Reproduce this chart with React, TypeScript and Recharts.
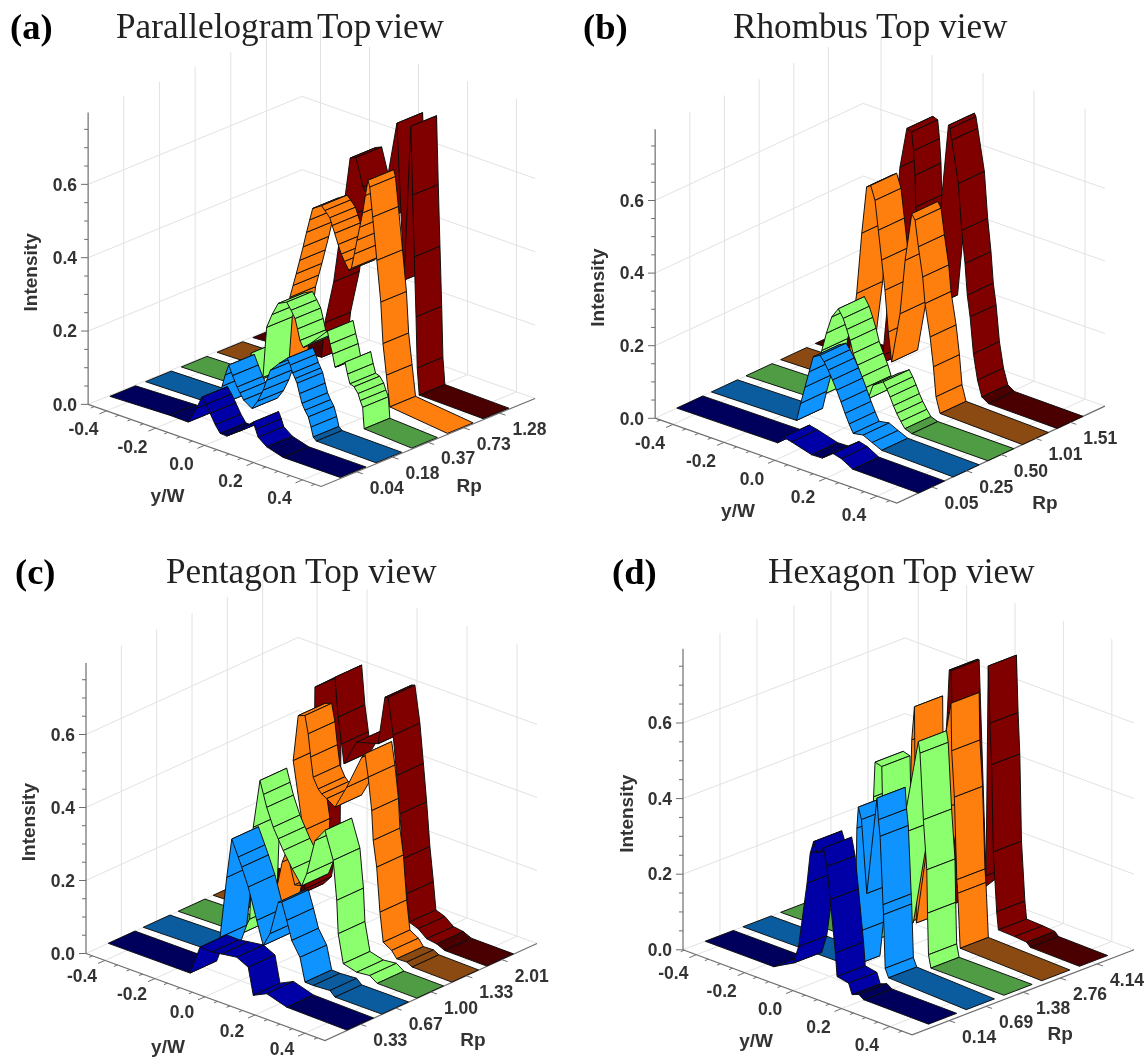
// App.tsx
// Four waterfall panels: each ribbon is projected by hand onto a Recharts scatter plane

import { Scatter, ScatterChart, XAxis, YAxis } from "recharts";

type Pt = [number, number]; // [y/W, intensity]

const YW_TICKS = [-0.4, -0.2, 0, 0.2, 0.4];
const WALL_LEVELS = [0.2, 0.4, 0.6];
const INTENSITY_TICKS = [0, 0.2, 0.4, 0.6];
const INTENSITY_MINOR = [0.05, 0.1, 0.15, 0.25, 0.3, 0.35, 0.45, 0.5, 0.55, 0.65, 0.7, 0.75];
const YW_MINOR = [-0.45, -0.35, -0.3, -0.25, -0.15, -0.1, -0.05, 0.05, 0.1, 0.15, 0.25, 0.3, 0.35, 0.45];

const rpA = ["0.04", "0.18", "0.37", "0.73", "1.28"];
const rpB = ["0.05", "0.25", "0.50", "1.01", "1.51"];
const rpC = ["0.33", "0.67", "1.00", "1.33", "2.01"];
const rpD = ["0.14", "0.69", "1.38", "2.76", "4.14"];

// (a) Parallelogram
const aNavy: Pt[] = [[-0.47, 0], [-0.224, 0.006], [-0.151, 0.005], [-0.116, 0.051], [-0.095, 0.086], [-0.078, 0.07], [-0.061, 0.05], [-0.04, 0.024], [-0.02, 0.005], [0.007, 0.004], [0.06, 0.03], [0.09, 0.052], [0.114, 0.067], [0.125, 0.05], [0.135, 0.031], [0.17, 0.013], [0.237, 0], [0.47, 0]];
const aBlue: Pt[] = [[-0.47, 0], [-0.175, 0.004], [-0.158, 0.061], [-0.145, 0.095], [-0.131, 0.125], [-0.115, 0.1], [-0.097, 0.073], [-0.085, 0.06], [-0.07, 0.044], [-0.036, 0.029], [-0.012, 0.055], [0.01, 0.09], [0.024, 0.12], [0.039, 0.151], [0.075, 0.178], [0.108, 0.2], [0.12, 0.184], [0.13, 0.165], [0.14, 0.152], [0.148, 0.141], [0.158, 0.115], [0.168, 0.091], [0.18, 0.075], [0.194, 0.06], [0.205, 0.035], [0.214, 0.01], [0.227, 0.002], [0.47, 0]];
const aGreen: Pt[] = [[-0.47, 0], [-0.22, 0.004], [-0.185, 0.105], [-0.137, 0.05], [-0.122, 0.19], [-0.1, 0.23], [-0.075, 0.266], [-0.04, 0.278], [-0.022, 0.26], [-0.006, 0.241], [0.004, 0.215], [0.014, 0.186], [0.027, 0.17], [0.06, 0.19], [0.126, 0.238], [0.137, 0.205], [0.147, 0.18], [0.157, 0.147], [0.165, 0.15], [0.198, 0.17], [0.208, 0.14], [0.218, 0.116], [0.235, 0.112], [0.251, 0.097], [0.26, 0.08], [0.27, 0.064], [0.276, 0.007], [0.47, 0]];
const aOrange: Pt[] = [[-0.47, 0], [-0.21, 0.004], [-0.173, 0.22], [-0.16, 0.255], [-0.147, 0.29], [-0.133, 0.33], [-0.119, 0.37], [-0.105, 0.413], [-0.092, 0.45], [-0.08, 0.484], [-0.044, 0.5], [-0.03, 0.49], [-0.01, 0.475], [0, 0.456], [0.01, 0.437], [0.024, 0.41], [0.037, 0.387], [0.05, 0.37], [0.068, 0.35], [0.078, 0.358], [0.09, 0.4], [0.101, 0.44], [0.112, 0.478], [0.124, 0.52], [0.135, 0.57], [0.146, 0.614], [0.153, 0.597], [0.165, 0.518], [0.182, 0.404], [0.198, 0.294], [0.207, 0.183], [0.221, 0.1], [0.235, 0.017], [0.47, 0]];
const aMaroon: Pt[] = [[-0.47, 0], [-0.19, 0.012], [-0.176, 0.11], [-0.14, 0.23], [-0.105, 0.41], [-0.073, 0.583], [-0.049, 0.59], [-0.02, 0.516], [0.049, 0.44], [0.118, 0.723], [0.147, 0.302], [0.175, 0.728], [0.182, 0.542], [0.189, 0.375], [0.196, 0.213], [0.201, 0.075], [0.209, 0.003], [0.47, 0]];

// (b) Rhombus
const bNavy: Pt[] = [[-0.47, 0], [-0.075, 0.002], [-0.052, 0.023], [-0.02, 0.018], [0.059, 0.002], [0.1, 0.003], [0.143, 0.026], [0.175, 0.02], [0.22, 0.002], [0.478, 0]];
const bBlue: Pt[] = [[-0.47, 0], [-0.136, 0.004], [-0.12, 0.055], [-0.103, 0.104], [-0.087, 0.15], [-0.071, 0.195], [-0.044, 0.206], [-0.028, 0.192], [-0.012, 0.173], [0.005, 0.15], [0.021, 0.126], [0.038, 0.098], [0.054, 0.07], [0.07, 0.045], [0.086, 0.023], [0.125, 0.028], [0.16, 0.016], [0.198, 0.004], [0.478, 0]];
const bGreen: Pt[] = [[-0.47, 0], [-0.2, 0.004], [-0.173, 0.143], [-0.155, 0.195], [-0.134, 0.245], [-0.108, 0.274], [-0.089, 0.252], [-0.075, 0.225], [-0.062, 0.198], [-0.05, 0.165], [-0.033, 0.137], [-0.016, 0.109], [-0.003, 0.082], [0.009, 0.055], [0.028, 0.097], [0.068, 0.116], [0.082, 0.1], [0.095, 0.081], [0.108, 0.06], [0.121, 0.042], [0.137, 0.024], [0.153, 0.008], [0.18, 0.001], [0.478, 0]];
const bOrange: Pt[] = [[-0.47, 0], [-0.215, 0.004], [-0.172, 0.256], [-0.152, 0.427], [-0.133, 0.559], [-0.117, 0.567], [-0.1, 0.53], [-0.087, 0.451], [-0.074, 0.372], [-0.061, 0.292], [-0.048, 0.18], [-0.035, 0.101], [-0.002, 0.242], [0.018, 0.394], [0.044, 0.529], [0.057, 0.514], [0.07, 0.444], [0.087, 0.365], [0.096, 0.294], [0.116, 0.207], [0.129, 0.128], [0.139, 0.048], [0.155, 0.006], [0.478, 0]];
const bMaroon: Pt[] = [[-0.47, 0], [-0.22, 0.004], [-0.205, 0.033], [-0.138, 0.568], [-0.111, 0.681], [-0.092, 0.676], [-0.085, 0.626], [-0.079, 0.56], [-0.076, 0.473], [-0.053, 0.332], [-0.014, 0.213], [0.052, 0.73], [0.058, 0.722], [0.065, 0.692], [0.091, 0.579], [0.104, 0.453], [0.117, 0.365], [0.126, 0.28], [0.137, 0.223], [0.15, 0.125], [0.166, 0.056], [0.183, 0.014], [0.209, 0.002], [0.478, 0]];

// (c) Pentagon
const cNavy: Pt[] = [[-0.476, 0], [-0.149, 0], [-0.109, 0.081], [-0.06, 0.08], [-0.022, 0.084], [0.038, 0.09], [0.084, 0.074], [0.104, 0.002], [0.158, 0.02], [0.238, 0.003], [0.478, 0]];
const cBlue: Pt[] = [[-0.476, 0], [-0.19, 0.004], [-0.169, 0.049], [-0.142, 0.22], [-0.122, 0.33], [-0.096, 0.287], [-0.082, 0.263], [-0.056, 0.215], [-0.022, 0.132], [0.004, 0.07], [0.031, 0.109], [0.064, 0.203], [0.078, 0.207], [0.098, 0.162], [0.118, 0.112], [0.151, 0.074], [0.171, 0.011], [0.204, 0.01], [0.271, 0.013], [0.291, 0], [0.478, 0]];
const cGreen: Pt[] = [[-0.476, 0], [-0.22, 0.004], [-0.19, 0.05], [-0.176, 0.305], [-0.149, 0.44], [-0.135, 0.405], [-0.122, 0.373], [-0.096, 0.325], [-0.076, 0.298], [-0.056, 0.271], [-0.02, 0.23], [0.018, 0.193], [0.038, 0.231], [0.071, 0.33], [0.111, 0.368], [0.144, 0.294], [0.158, 0.188], [0.164, 0.098], [0.184, 0.021], [0.238, 0.011], [0.29, 0.015], [0.32, 0.001], [0.478, 0]];
const cOrange: Pt[] = [[-0.476, 0], [-0.28, 0.004], [-0.24, 0.02], [-0.2, 0.16], [-0.182, 0.196], [-0.15, 0.11], [-0.129, 0.113], [-0.116, 0.267], [-0.156, 0.449], [-0.136, 0.577], [-0.109, 0.584], [-0.096, 0.537], [-0.086, 0.476], [-0.076, 0.423], [-0.056, 0.396], [-0.042, 0.386], [-0.022, 0.378], [0.011, 0.363], [0.058, 0.429], [0.118, 0.526], [0.131, 0.539], [0.144, 0.478], [0.158, 0.39], [0.164, 0.31], [0.178, 0.24], [0.191, 0.12], [0.204, 0.041], [0.238, 0.027], [0.258, 0.009], [0.298, 0.01], [0.32, 0.002], [0.478, 0]];
const cMaroon: Pt[] = [[-0.476, 0], [-0.28, 0.004], [-0.25, 0.03], [-0.215, 0.18], [-0.209, 0.593], [-0.129, 0.64], [-0.116, 0.534], [-0.102, 0.464], [-0.093, 0.412], [-0.042, 0.484], [0.044, 0.501], [0.071, 0.635], [0.084, 0.638], [0.104, 0.539], [0.118, 0.432], [0.131, 0.33], [0.144, 0.211], [0.158, 0.118], [0.168, 0.043], [0.204, 0.034], [0.238, 0.015], [0.278, 0.011], [0.31, 0.001], [0.478, 0]];

// (d) Hexagon
const dNavy: Pt[] = [[-0.455, 0], [-0.172, 0], [-0.09, 0.029], [-0.069, 0.078], [-0.034, 0.254], [-0.021, 0.336], [-0.007, 0.37], [0.007, 0.343], [0.034, 0.363], [0.048, 0.317], [0.062, 0.233], [0.083, 0.097], [0.09, 0.036], [0.138, 0.03], [0.152, 0.003], [0.18, 0.01], [0.2, 0.001], [0.468, 0]];
const dBlue: Pt[] = [[-0.455, 0], [-0.005, 0.002], [0.009, 0.094], [0.016, 0.373], [0.022, 0.43], [0.035, 0.4], [0.057, 0.21], [0.099, 0.472], [0.105, 0.416], [0.112, 0.374], [0.124, 0.196], [0.126, 0.17], [0.133, 0.03], [0.147, 0.008], [0.468, 0]];
const dGreen: Pt[] = [[-0.455, 0], [-0.099, 0.003], [-0.071, 0.397], [-0.065, 0.49], [-0.037, 0.485], [-0.023, 0.047], [0.046, 0.328], [0.114, 0.587], [0.121, 0.558], [0.135, 0.385], [0.149, 0.256], [0.152, 0.142], [0.156, 0.033], [0.166, 0], [0.468, 0]];
const dOrange: Pt[] = [[-0.455, 0], [-0.09, 0.02], [-0.069, 0.51], [-0.058, 0.6], [-0.05, 0.03], [0.014, 0.336], [0.093, 0.645], [0.096, 0.52], [0.107, 0.4], [0.117, 0.184], [0.121, 0.149], [0.131, 0.006], [0.468, 0]];
const dMaroon: Pt[] = [[-0.455, 0], [-0.13, 0.004], [-0.078, 0.54], [-0.07, 0.656], [-0.063, 0.656], [-0.033, 0.065], [0.082, 0.148], [0.091, 0.705], [0.098, 0.555], [0.105, 0.447], [0.112, 0.218], [0.126, 0.063], [0.133, 0.017], [0.2, 0.015], [0.25, 0.012], [0.265, 0.002], [0.468, 0]];

const BRIGHT = ["#0000a6", "#0f94ff", "#8cff6e", "#ff7f0e", "#800000"];
const FLOOR = ["#00005c", "#0b5c9e", "#4f9c45", "#8a4a12", "#4a0000"];

interface Panel {
  tag: string;
  title: string;
  tagLeft: number;
  titleLeft: number;
  textTop: number;
  wordGap: number;
  tickDy: number;
  series: Pt[][];
  rp: string[];
  ox: number;
  oy: number;
  cx: number;
  cy: number;
  ax: number;
  ay: number;
  bx: number;
  by: number;
  scale: number;
  ywL: number;
  ywR: number;
  b0: number;
  sp: number;
  w: number;
}

const PANELS: Panel[] = [
  { tag: "(a)", title: "Parallelogram Top view", tagLeft: 10, titleLeft: 116, textTop: 9, wordGap: -4.5, tickDy: 18.5, series: [aNavy, aBlue, aGreen, aOrange, aMaroon], rp: rpA,
    ox: 88, oy: 404, cx: 204.5, cy: 445, ax: 245, ay: 86.3, bx: 214, by: -88, scale: 366.7, ywL: -0.475, ywR: 0.476, b0: 0.096, sp: 0.167, w: 0.12 },
  { tag: "(b)", title: "Rhombus Top view", tagLeft: 583, titleLeft: 733, textTop: 9, wordGap: 0, tickDy: 18.5, series: [bNavy, bBlue, bGreen, bOrange, bMaroon], rp: rpB,
    ox: 655, oy: 418, cx: 775, cy: 460, ax: 255, ay: 89.6, bx: 208, by: -97, scale: 363, ywL: -0.47, ywR: 0.478, b0: 0.104, sp: 0.1665, w: 0.125 },
  { tag: "(c)", title: "Pentagon Top view", tagLeft: 15, titleLeft: 166, textTop: 554, wordGap: 0, tickDy: 15.5, series: [cNavy, cBlue, cGreen, cOrange, cMaroon], rp: rpC,
    ox: 86, oy: 953, cx: 205, cy: 996.3, ax: 250, ay: 91, bx: 212, by: -97, scale: 365, ywL: -0.476, ywR: 0.48, b0: 0.105, sp: 0.165, w: 0.126 },
  { tag: "(d)", title: "Hexagon Top view", tagLeft: 612, titleLeft: 768, textTop: 554, wordGap: 0, tickDy: 18.5, series: [dNavy, dBlue, dGreen, dOrange, dMaroon], rp: rpD,
    ox: 683, oy: 950, cx: 793, cy: 990.8, ax: 242, ay: 89.8, bx: 222, by: -85, scale: 378, ywL: -0.455, ywR: 0.492, b0: 0.1, sp: 0.17, w: 0.127 },
];

const GRID = { stroke: "#e2e2e2", strokeWidth: 1 };
const AXIS = { stroke: "#6e6e6e", strokeWidth: 1.2 };
const SANS = "'Liberation Sans', Arial, sans-serif";
const SERIF = "'Liberation Serif', 'Times New Roman', serif";
const TOP_VALUE = 1.1;
const AXIS_W = 80;

const NoMark = () => <g />;

// labels sit on a data point and are pushed off it in pixels, so they do not stretch the axis domains
const TextMark = (p: any) => {
  const x = p.cx + (p.payload.dx ?? 0);
  const y = p.cy + (p.payload.dy ?? 0);
  return (
    <text
      x={x}
      y={y}
      textAnchor="middle"
      dominantBaseline="central"
      fontFamily={SANS}
      fontWeight="bold"
      fontSize={p.payload.size}
      fill="#333"
      transform={p.payload.rotate ? `rotate(-90 ${x} ${y})` : undefined}
    >
      {p.payload.label}
    </text>
  );
};

const TickMark = (p: any) => (
  <line x1={p.cx} y1={p.cy} x2={p.cx + p.payload.dx} y2={p.cy + p.payload.dy} stroke="#6e6e6e" strokeWidth={1} />
);

function WaterfallPanel({ g }: { g: Panel }) {
  const at = (yw: number, b: number, i: number) => ({
    x: g.cx + g.ax * yw + g.bx * b - g.ox,
    y: (g.oy - (g.cy + g.ay * yw + g.by * b)) / g.scale + i,
  });
  const line = (key: string, pts: { x: number; y: number }[], style: object) => (
    <Scatter key={key} data={pts} line={style} lineType="joint" shape={NoMark} isAnimationActive={false} />
  );

  const left = g.ox - AXIS_W;
  const top = g.oy - TOP_VALUE * g.scale;
  const width = Math.round(g.cx + g.ax * g.ywR + g.bx + 42 - left);
  const plotH = 1059 - top > 530 ? 530 : Math.floor(1059 - top);
  const minValue = TOP_VALUE - plotH / g.scale;

  const grid = [
    ...WALL_LEVELS.flatMap((v) => [
      line(`wl${v}`, [at(g.ywL, 0, v), at(g.ywL, 1, v)], GRID),
      line(`wr${v}`, [at(g.ywL, 1, v), at(g.ywR, 1, v)], GRID),
    ]),
    ...[1, 2, 3, 4, 5].flatMap((k) => [
      line(`vl${k}`, [at(g.ywL, k / 6, 0), at(g.ywL, k / 6, 0.8)], GRID),
      line(`fb${k}`, [at(g.ywL, k / 6, 0), at(g.ywR, k / 6, 0)], GRID),
    ]),
    ...YW_TICKS.flatMap((v) => [
      line(`vr${v}`, [at(v, 1, 0), at(v, 1, 0.8)], GRID),
      line(`fy${v}`, [at(v, 0, 0), at(v, 1, 0)], GRID),
    ]),
    line("back", [at(g.ywL, 0, 0), at(g.ywL, 1, 0), at(g.ywR, 1, 0)], GRID),
  ];

  // far ribbon first, and inside a ribbon from -y/W to +y/W, so nearer faces cover farther ones
  const ribbons = g.series
    .map((pts, i) => {
      const b = g.b0 + i * g.sp;
      return pts.slice(1).map((p, j) => {
        const q = pts[j];
        const low = q[1] < 0.015 && p[1] < 0.015;
        return line(
          `r${i}-${j}`,
          [at(q[0], b, q[1]), at(p[0], b, p[1]), at(p[0], b + g.w, p[1]), at(q[0], b + g.w, q[1]), at(q[0], b, q[1])],
          { fill: low ? FLOOR[i] : BRIGHT[i], stroke: "#0c0c0c", strokeWidth: 0.95, strokeLinejoin: "round" },
        );
      });
    })
    .reverse();

  const ticks = [
    ...INTENSITY_MINOR.map((v) => ({ ...at(g.ywL, 0, v), dx: -4, dy: 0 })),
    ...YW_TICKS.map((v) => ({ ...at(v, 0, 0), dx: -7, dy: 3 })),
    ...YW_MINOR.map((v) => ({ ...at(v, 0, 0), dx: -3.5, dy: 1.5 })),
    ...[1, 2, 3, 4, 5].map((k) => ({ ...at(g.ywR, k / 6, 0), dx: 6, dy: 2 })),
  ];

  const labels = [
    ...YW_TICKS.map((v) => ({ ...at(v, 0, 0), dx: -23, dy: g.tickDy, label: v.toFixed(1), size: 17.5 })),
    ...g.rp.map((r, k) => ({ ...at(g.ywR, (k + 1) / 6, 0), dx: 30, dy: 16, label: r, size: 17.5 })),
    { ...at(0, 0, 0), dx: -37, dy: 50, label: "y/W", size: 19 },
    { ...at(g.ywR, 0, 0), dx: 148, dy: -1, label: "Rp", size: 19 },
    { x: 0, y: 0.36, dx: -57, label: "Intensity", size: 19, rotate: true },
  ];

  return (
    <div style={{ position: "absolute", left, top }}>
      <ScatterChart width={width} height={plotH} margin={{ top: 0, right: 0, bottom: 0, left: 0 }}>
        <XAxis type="number" dataKey="x" hide domain={[0, width - AXIS_W]} />
        <YAxis
          type="number"
          dataKey="y"
          width={AXIS_W}
          domain={[minValue, TOP_VALUE]}
          ticks={INTENSITY_TICKS}
          interval={0}
          axisLine={false}
          tickSize={7}
          tickMargin={4}
          tickLine={{ stroke: "#6e6e6e" }}
          tickFormatter={(v: number) => v.toFixed(1)}
          tick={{ fontSize: 17.5, fontWeight: "bold", fontFamily: SANS, fill: "#333" }}
        />
        {grid}
        {line("iaxis", [at(g.ywL, 0, 0), at(g.ywL, 0, 0.796)], AXIS)}
        {line("floor", [at(g.ywL, 0, 0), at(g.ywR, 0, 0), at(g.ywR, 1, 0)], AXIS)}
        {ribbons}
        <Scatter data={ticks} shape={TickMark} isAnimationActive={false} />
        <Scatter data={labels} shape={TextMark} isAnimationActive={false} />
      </ScatterChart>
    </div>
  );
}

export default function App() {
  return (
    <div style={{ position: "absolute", left: 0, top: 0, width: 1147, height: 1059, overflow: "hidden", background: "#fff", filter: "blur(0.4px)" }}>
      {PANELS.map((g) => (
        <div key={g.tag}>
          <WaterfallPanel g={g} />
          <div style={{ position: "absolute", left: g.tagLeft, top: g.textTop, fontFamily: SERIF, fontWeight: "bold", fontSize: 36.5, lineHeight: 1, whiteSpace: "nowrap" }}>
            {g.tag}
          </div>
          <div style={{ position: "absolute", left: g.titleLeft, top: g.textTop, fontFamily: SERIF, fontSize: 35.2, lineHeight: 1, wordSpacing: g.wordGap, whiteSpace: "nowrap", color: "#222" }}>
            {g.title}
          </div>
        </div>
      ))}
    </div>
  );
}
